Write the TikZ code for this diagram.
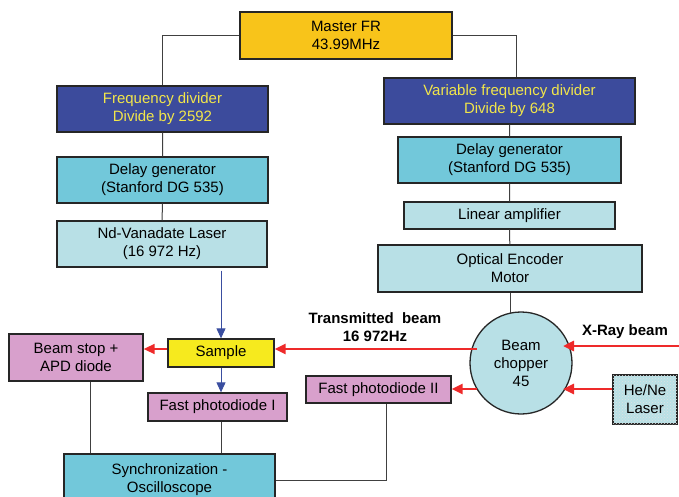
\documentclass[tikz,border=0pt]{standalone}
\usepackage{fontspec}
\setmainfont{Liberation Sans}
\usetikzlibrary{arrows.meta,patterns}

\definecolor{mastergold}{HTML}{F8C41A}
\definecolor{divblue}{HTML}{3C4B9C}
\definecolor{divtext}{HTML}{F2E64A}
\definecolor{delaycyan}{HTML}{72C8DA}
\definecolor{lightcyan}{HTML}{B8E0E6}
\definecolor{diodepink}{HTML}{D8A0CC}
\definecolor{sampleyellow}{HTML}{F6EA1E}
\definecolor{beamred}{HTML}{EE2A2A}
\definecolor{trigblue}{HTML}{3A4EA0}

\tikzset{
  box/.style={draw=black!85, line width=1.3pt, inner sep=0pt, align=center,
    font=\fontsize{15}{18}\selectfont},
  master/.style={box, fill=mastergold, minimum width=212pt, minimum height=47pt},
  divider/.style={box, fill=divblue, text=divtext, minimum height=46pt},
  delay/.style={box, fill=delaycyan, minimum height=46pt},
  plain/.style={box, fill=lightcyan},
  diode/.style={box, fill=diodepink},
  wire/.style={draw=black!75, line width=1pt},
  beam/.style={draw=beamred, line width=2.6pt, -{Triangle[length=11pt,width=10pt]}},
  trig/.style={draw=trigblue, line width=1pt, -{Triangle[length=10pt,width=9pt]}},
  lbl/.style={font=\fontsize{15}{18}\selectfont\bfseries, align=center}
}

\begin{document}
\begin{tikzpicture}[x=1pt,y=-1pt]
\useasboundingbox (0,0) rectangle (679,497);

\draw (346,35.5) node[master] (master) {Master FR\\43.99MHz};
\draw (162.5,109) node[divider, minimum width=211pt] (fdiv) {Frequency divider\\Divide by 2592};
\draw (509.5,101) node[divider, minimum width=251pt] (vdiv) {Variable frequency divider\\Divide by 648};
\draw (162.5,180) node[delay, minimum width=211pt] (dgl) {Delay generator\\(Stanford DG 535)};
\draw (509.5,160) node[delay, minimum width=223pt] (dgr) {Delay generator\\(Stanford DG 535)};
\draw (509.5,215.5) node[plain, minimum width=211pt, minimum height=27pt] (amp) {Linear amplifier};
\draw (510,268.5) node[plain, minimum width=264pt, minimum height=47pt] (enc) {Optical Encoder\\Motor};
\draw (162,244) node[plain, minimum width=210pt, minimum height=46pt] (laser) {Nd-Vanadate Laser\\(16 972 Hz)};
\draw (221,353) node[box, fill=sampleyellow, minimum width=106pt, minimum height=28pt] (sample) {Sample};
\draw (76,357.5) node[diode, minimum width=134pt, minimum height=47pt] (stop) {Beam stop +\\APD diode};
\draw (217.5,407) node[diode, minimum width=139pt, minimum height=28pt] (pd1) {Fast photodiode I};
\draw (378.5,389.5) node[diode, minimum width=145pt, minimum height=27pt] (pd2) {Fast photodiode II};
\draw (169.5,480) node[delay, minimum width=211pt, minimum height=52pt] (sync) {Synchronization -\\Oscilloscope};
\draw (521,363) node[box, circle, fill=lightcyan, minimum size=102pt] (chop) {Beam\\chopper\\45};
\draw (645,399.5) node[plain, minimum width=64pt, minimum height=49pt,
  postaction={pattern=crosshatch dots, pattern color=black!12}] (hene) {He/Ne\\Laser};

\draw (375,327) node[lbl] (tlbl) {Transmitted\ \ beam\\16 972Hz};
\draw (625,332) node[lbl] (xlbl) {X-Ray beam};

% free beam ends
\coordinate (xin) at (679,346);
\coordinate (xhit) at (563,346);
\coordinate (thit) at (477,349);
\coordinate (hhit) at (563,389);
\coordinate (dout) at (477,389);

% clock distribution
\draw[wire] (master.west) -| (fdiv.north);
\draw[wire] (master.east) -| ([xshift=7pt]vdiv.north);
\draw[wire] (fdiv) -- (dgl) -- (laser);
\draw[wire] (vdiv) -- (dgr) -- (amp) -- (enc);
\draw[wire] (enc.south) -- (510,313);

% detectors to scope
\draw[wire] ([xshift=14pt]stop.south) -- ([xshift=14pt]stop.south |- sync.north);
\draw[wire] (sample.south |- pd1.south) -- (sample.south |- sync.north);
\draw[wire] ([xshift=7.5pt]pd2.south) |- (sync.east);

% trigger and beams
\draw[trig] ([yshift=-3pt]sample.north |- laser.south) -- (sample.north);
\draw[trig] (sample.south) -- (sample.south |- pd1.north);
\draw[beam, line width=1.6pt] ([yshift=4pt]sample.west) -- ([yshift=4pt]sample.west -| stop.east);
\draw[beam] (thit) -- ([yshift=4pt]sample.east);
\draw[beam] (xin) -- (xhit);
\draw[beam] (hene.west |- hhit) -- (hhit);
\draw[beam] (dout) -- (pd2.east |- dout);
\end{tikzpicture}
\end{document}
